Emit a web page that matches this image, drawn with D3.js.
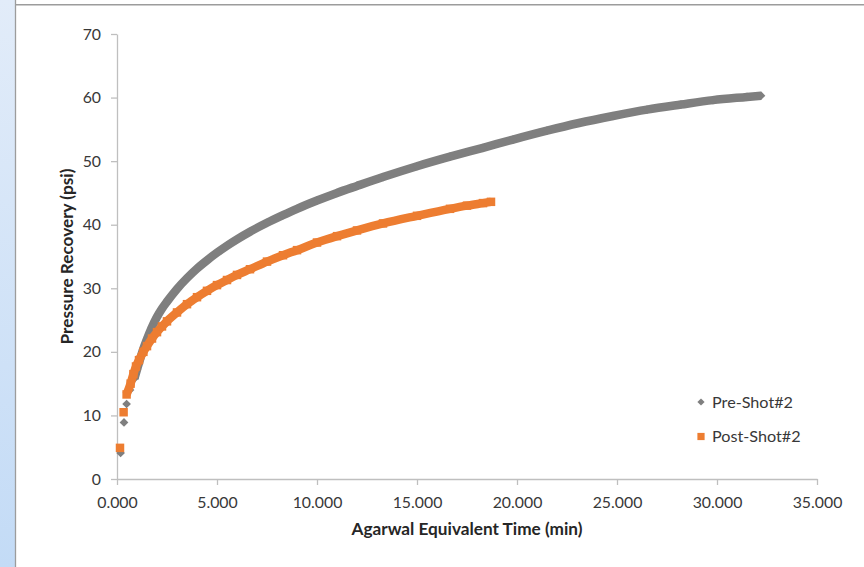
<!DOCTYPE html>
<html>
<head>
<meta charset="utf-8">
<script src="https://cdn.jsdelivr.net/npm/d3@7"></script>
<style>
  body { margin: 0; background: #fff; }
  text { font-family: Lato, "Open Sans", sans-serif; }
</style>
</head>
<body>
<div id="chart"></div>
<script>
var preTime = [0.18, 0.35, 0.48, 0.65, 0.87, 1.0, 1.15, 1.3, 1.5, 1.75, 2.0, 2.25, 2.5, 3.0, 3.5, 4.0, 4.5, 5.0, 5.5, 6.0,
  6.65, 7.5, 8.3, 9.0, 10.0, 11.0, 12.0, 13.3, 15.0, 16.65, 18.3, 19.8, 21.5, 23.1, 24.8, 26.5, 28.2, 29.8, 31.5, 32.2];
var prePressure = [4.1, 8.9, 11.8, 14.0, 15.8, 17.2, 18.8, 20.3, 22.0, 23.9, 25.5, 26.8, 27.9, 29.9, 31.6, 33.1, 34.4, 35.6, 36.7, 37.7,
  38.9, 40.3, 41.5, 42.5, 43.8, 45.0, 46.1, 47.5, 49.2, 50.7, 52.1, 53.4, 54.8, 56.0, 57.1, 58.1, 58.9, 59.6, 60.1, 60.3];

var postTime = [0.15, 0.33, 0.48, 0.68, 0.82, 0.95, 1.1, 1.32, 1.5, 1.75, 2.0, 2.25, 2.5, 3.0, 3.5, 4.0, 4.5, 5.0, 5.5, 6.0,
  6.65, 7.5, 8.3, 9.0, 10.0, 11.0, 12.0, 13.3, 15.0, 16.65, 17.5, 18.3, 18.7];
var postPressure = [4.9, 10.5, 13.3, 15.0, 16.5, 17.7, 18.7, 20.0, 20.9, 22.1, 23.1, 24.0, 24.8, 26.2, 27.5, 28.6, 29.6, 30.5, 31.3, 32.1,
  33.0, 34.2, 35.2, 36.0, 37.2, 38.2, 39.1, 40.2, 41.4, 42.5, 43.0, 43.4, 43.6];

var xTicks = [0, 5, 10, 15, 20, 25, 30, 35];
var yTicks = [0, 10, 20, 30, 40, 50, 60, 70];
var seriesNames = ["Pre-Shot#2", "Post-Shot#2"];

var width = 864,
    height = 567,
    plot = {left: 117, right: 817, top: 34, bottom: 479};

var svg = d3.select("#chart").append("svg")
    .attr("width", width)
    .attr("height", height);

// scale a text's font so it spans the width seen in the picture
function fitFont(sel, sample, target) {
  var probe = svg.append("text").style("font-size", "100px").style("font-weight", sel.style("font-weight")).text(sample);
  var w = probe.node().getComputedTextLength();
  probe.remove();
  sel.style("font-size", (100 * target / w).toFixed(2) + "px");
}

// window edge on the left and top
var grad = svg.append("defs").append("linearGradient")
    .attr("id", "edge").attr("x1", 0).attr("y1", 0).attr("x2", 0).attr("y2", 1);
grad.append("stop").attr("offset", "0%").attr("stop-color", "#e2ecf9");
grad.append("stop").attr("offset", "100%").attr("stop-color", "#c3dbf6");
svg.append("rect").attr("x", 0).attr("y", 0).attr("width", 15).attr("height", height).style("fill", "url(#edge)");
svg.append("line").attr("x1", 15.5).attr("x2", 15.5).attr("y1", 0).attr("y2", height)
    .style("stroke", "#9c9c9c").style("stroke-width", 1.3);
svg.append("line").attr("x1", 15).attr("x2", width).attr("y1", 4.8).attr("y2", 4.8)
    .style("stroke", "#9c9c9c").style("stroke-width", 1.6);

var x = d3.scaleLinear().domain([0, 35]).range([plot.left, plot.right]);
var y = d3.scaleLinear().domain([0, 70]).range([plot.bottom, plot.top]);

var xAxis = d3.axisBottom(x).tickValues(xTicks).tickSize(6).tickSizeOuter(0).tickPadding(12).tickFormat(d3.format(",.3f"));
var yAxis = d3.axisLeft(y).tickValues(yTicks).tickSize(6).tickSizeOuter(0).tickPadding(10);

var gx = svg.append("g")
    .attr("transform", `translate(0,${plot.bottom})`)
    .call(xAxis);
var gy = svg.append("g")
    .attr("transform", `translate(${plot.left},0)`)
    .call(yAxis);

[gx, gy].forEach(g => {
  g.attr("font-family", null).attr("font-size", null);
  g.select(".domain").style("stroke", "#bfbfbf").style("stroke-width", 1.3);
  g.selectAll(".tick line").style("stroke", "#bfbfbf").style("stroke-width", 1.3);
  g.selectAll(".tick text").style("fill", "#383838").style("font-weight", "normal");
  fitFont(g.selectAll(".tick text"), "0.000", 40.5);
});

var pre = preTime.map((t, i) => ({t: t, p: prePressure[i]}));
var post = postTime.map((t, i) => ({t: t, p: postPressure[i]}));

var band = d3.line().x(d => x(d.t)).y(d => y(d.p)).curve(d3.curveMonotoneX);

/* Pre-Shot#2: diamonds, merging into a band */
svg.append("path")
    .datum(pre.slice(4))
    .attr("d", band)
    .style("fill", "none").style("stroke", "#7f7f7f").style("stroke-width", 8.5)
    .style("stroke-linejoin", "round");
svg.selectAll(".pre")
    .data(pre)
    .enter().append("path")
    .attr("class", "pre")
    .attr("d", d3.symbol(d3.symbolSquare, 38))
    .attr("transform", d => `translate(${x(d.t)},${y(d.p)}) rotate(45)`)
    .style("fill", "#7f7f7f");

/* Post-Shot#2: squares */
svg.append("path")
    .datum(post.slice(2))
    .attr("d", band)
    .style("fill", "none").style("stroke", "#ed7d31").style("stroke-width", 8.5)
    .style("stroke-linejoin", "round");
svg.selectAll(".post")
    .data(post)
    .enter().append("path")
    .attr("class", "post")
    .attr("d", d3.symbol(d3.symbolSquare, 72))
    .attr("transform", d => `translate(${x(d.t)},${y(d.p)})`)
    .style("fill", "#ed7d31");

// Axis titles
var xTitle = svg.append("text")
    .attr("x", (plot.left + plot.right) / 2)
    .attr("y", 535)
    .style("text-anchor", "middle")
    .style("font-weight", "bold")
    .style("fill", "#262626")
    .text("Agarwal Equivalent Time (min)");
fitFont(xTitle, "Agarwal Equivalent Time (min)", 231);

var yTitle = svg.append("text")
    .attr("transform", `translate(73,${(plot.top + plot.bottom) / 2}) rotate(-90)`)
    .style("text-anchor", "middle")
    .style("font-weight", "bold")
    .style("fill", "#262626")
    .text("Pressure Recovery (psi)");
yTitle.style("font-size", xTitle.style("font-size"));

// Legend
var legend = svg.selectAll(".legend")
    .data(seriesNames)
    .enter().append("g")
    .attr("class", "legend")
    .attr("transform", (d, i) => `translate(701,${402 + i * 34.5})`);

legend.append("path")
    .attr("d", (d, i) => d3.symbol(d3.symbolSquare, i === 0 ? 26 : 52)())
    .attr("transform", (d, i) => i === 0 ? "rotate(45)" : null)
    .style("fill", (d, i) => i === 0 ? "#7f7f7f" : "#ed7d31");

var legendText = legend.append("text")
    .attr("x", 11)
    .attr("dy", "0.36em")
    .style("fill", "#383838")
    .text(d => d);
fitFont(legendText, "Pre-Shot#2", 81);
</script>
</body>
</html>
